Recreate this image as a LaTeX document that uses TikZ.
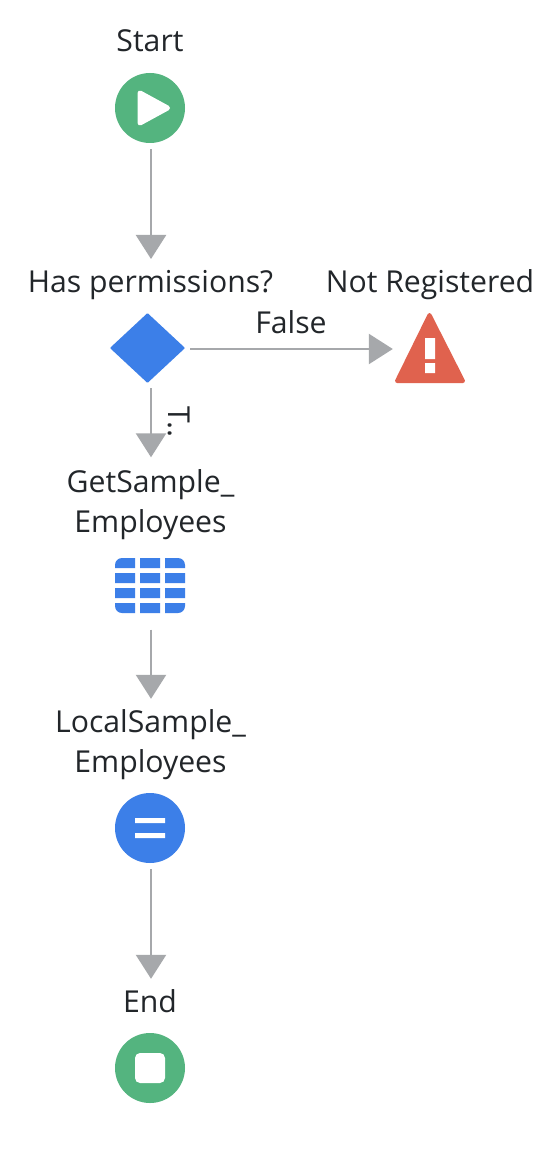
\documentclass[tikz,border=0pt]{standalone}
\usepackage{fontspec}
\setmainfont{Open Sans}
\usetikzlibrary{arrows.meta,shapes.geometric}
\definecolor{flowgreen}{HTML}{54B47F}
\definecolor{flowblue}{HTML}{3C7FE8}
\definecolor{flowred}{HTML}{E0624E}
\definecolor{flowgray}{HTML}{A6A8AB}
\definecolor{flowtext}{HTML}{22262A}
\tikzset{
  x=1pt,y=-1pt,
  flow/.style={draw=flowgray,line width=2.4pt,-{Triangle[length=24pt,width=30pt,fill=flowgray]}},
  lbl/.style={font=\fontsize{30.2}{40}\selectfont,text=flowtext,inner sep=0pt,anchor=base,align=center},
  disc/.style={circle,fill=#1,minimum size=70pt,inner sep=0pt},
  icon/.style={minimum width=70pt,minimum height=70pt,inner sep=0pt},
  dec/.style={diamond,fill=flowblue,draw=flowblue,line width=2pt,line join=round,minimum width=73pt,minimum height=68pt,inner sep=0pt},
  glyph/.style={fill=white,draw=white,line join=round}
}
\begin{document}
\begin{tikzpicture}
\useasboundingbox[fill=white] (0,0) rectangle (552,1150);
% icons
\node[disc=flowgreen] (start) at (150,108) {};
\node[dec] (decide) at (147.5,348) {};
\node[icon] (warn) at (430,348) {};
\node[icon,minimum height=56pt] (table) at (150,585.5) {};
\node[disc=flowblue] (assign) at (150,828) {};
\node[disc=flowgreen] (stop) at (150,1068) {};
% glyphs
\path[glyph,line width=5pt] (140,93) -- (167.5,108) -- (140,123) -- cycle;
\path[fill=flowred,draw=flowred,line width=4pt,line join=round] (429.5,315) -- (463,381) -- (397,381) -- cycle;
\fill[white] (425,338) rectangle (435,359) (425,363) rectangle (435,373);
\begin{scope}
\clip[rounded corners=7pt] (115,558) rectangle (185,613);
\fill[flowblue]
  (115,558) rectangle (135,568) (140,558) rectangle (160,568) (165,558) rectangle (185,568)
  (115,573) rectangle (135,583) (140,573) rectangle (160,583) (165,573) rectangle (185,583)
  (115,588) rectangle (135,598) (140,588) rectangle (160,598) (165,588) rectangle (185,598)
  (115,603) rectangle (135,613) (140,603) rectangle (160,613) (165,603) rectangle (185,613);
\end{scope}
\fill[white] (135,818) rectangle (165,823) (135,833) rectangle (165,838);
\fill[white,rounded corners=5pt] (135,1053) rectangle (165,1083);
% labels
\node[lbl] (lstart) at (150,52) {Start};
\node[lbl] (lperm) at (150.5,292) {Has permissions?};
\node[lbl] (lwarn) at (430,292) {Not Registered};
\node[lbl] (lfalse) at (291,333) {False};
\node[lbl] (lget) at (150.5,532) {GetSample\_\\Employees};
\node[lbl] (llocal) at (150.5,772) {LocalSample\_\\Employees};
\node[lbl] (lend) at (150,1012) {End};
\node[lbl,rotate=-90,anchor=base west] (ltrue) at (168,406) {T..};
% connectors
\draw[flow,shorten <=6pt,shorten >=54pt] ([xshift=1pt]start.south) -- ([xshift=1pt]start.south |- decide.north);
\draw[flow,shorten <=5pt,shorten >=2pt] ([yshift=-1pt]decide.east) -- ([yshift=-1pt]decide.east -| warn.west);
\draw[flow,shorten <=5pt,shorten >=100pt] ([xshift=3.5pt]decide.south) -- ([xshift=3.5pt]decide.south |- table.north);
\draw[flow,shorten <=16pt,shorten >=94pt] ([xshift=1pt]table.south) -- ([xshift=1pt]table.south |- assign.north);
\draw[flow,shorten <=6pt,shorten >=54pt] ([xshift=1pt]assign.south) -- ([xshift=1pt]assign.south |- stop.north);
\end{tikzpicture}
\end{document}
